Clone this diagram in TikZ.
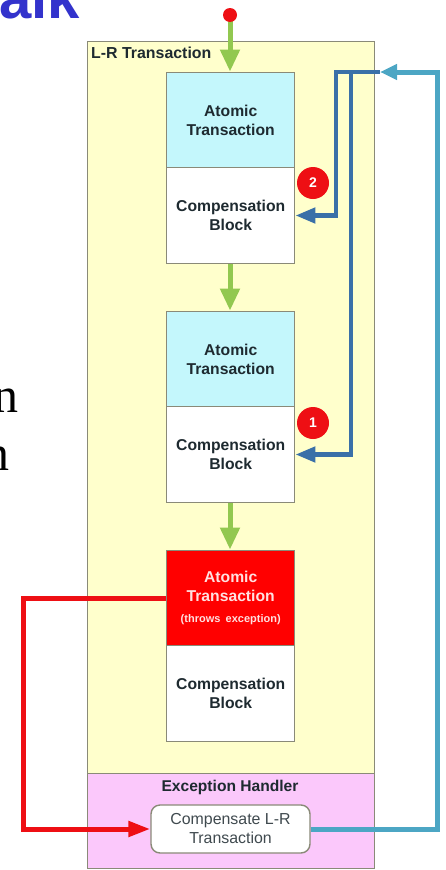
\documentclass[tikz,border=0pt]{standalone}
\usepackage{fontspec}
\setmainfont{Liberation Sans}
\newfontfamily\serifface{Liberation Serif}
\usetikzlibrary{arrows.meta}
\definecolor{panelyellow}{HTML}{FFFFCC}
\definecolor{panelpink}{HTML}{FBC8FB}
\definecolor{atomcyan}{HTML}{C4F7FC}
\definecolor{edgegrey}{HTML}{8A8A78}
\definecolor{flowgreen}{HTML}{92C850}
\definecolor{undoblue}{HTML}{3A70A8}
\definecolor{handlerteal}{HTML}{4CA6C4}
\definecolor{alarmred}{HTML}{EE0F14}
\definecolor{titleblue}{HTML}{3333CC}
\definecolor{inktext}{HTML}{1E2A30}
\tikzset{
  x=1pt,y=-1pt,
  panel/.style={draw=edgegrey,line width=1.4pt,anchor=north west,inner sep=0pt},
  blockbox/.style={draw=edgegrey,line width=1.4pt,minimum width=128pt,minimum height=95.5pt,inner sep=0pt,align=center,text=inktext,font=\fontsize{15.7}{19}\selectfont\bfseries},
  atombox/.style={blockbox,fill=atomcyan},
  compbox/.style={blockbox,fill=white},
  failbox/.style={blockbox,fill=red,text=white!88!red},
  badge/.style={circle,fill=alarmred,text=white,inner sep=0pt,minimum size=32pt,font=\fontsize{14}{14}\selectfont\bfseries},
  flowline/.style={draw=flowgreen,line width=5pt,-{Triangle[length=22pt,width=19pt]}},
  undoline/.style={draw=undoblue,line width=4.6pt,-{Triangle[length=20pt,width=15pt]}},
  handlerline/.style={draw=handlerteal,line width=5pt,-{Triangle[length=17pt,width=15pt]}},
  raiseline/.style={draw=alarmred,line width=5pt,-{Triangle[length=22pt,width=15pt]}},
}
\begin{document}
\begin{tikzpicture}
\useasboundingbox (0,0) rectangle (446,870);
\begin{scope}
\clip (0,0) rectangle (446,870);
\node[anchor=base west,inner sep=0pt,text=titleblue,font=\fontsize{58}{58}\selectfont\bfseries] (title) at (-1,18) {alk};
\node[anchor=base east,inner sep=0pt,font=\fontsize{50}{50}\selectfont\serifface] (frag1) at (19,412) {n};
\node[anchor=base east,inner sep=0pt,font=\fontsize{50}{50}\selectfont\serifface] (frag2) at (10,470) {n};
\end{scope}

\node[panel,fill=panelyellow,minimum width=287pt,minimum height=732pt] (lr) at (87,41) {};
\node[panel,fill=panelpink,minimum width=287pt,minimum height=95pt] (eh) at (87,773) {};
\node[anchor=base west,inner sep=0pt,text=inktext,font=\fontsize{15.9}{15}\selectfont\bfseries] (lrlabel) at (91,58) {L-R Transaction};
\node[inner sep=0pt,text=inktext,font=\fontsize{15.6}{15}\selectfont\bfseries] (ehlabel) at (230,787) {Exception Handler};

\node[atombox,text width=128pt] (a1) at (230.7,120) {Atomic\\Transaction};
\node[compbox,text width=128pt] (c1) at (230.7,215.5) {Compensation\\Block};
\node[atombox,text width=128pt] (a2) at (230.7,359) {Atomic\\Transaction};
\node[compbox,text width=128pt] (c2) at (230.7,454.5) {Compensation\\Block};
\node[failbox,text width=128pt] (a3) at (230.7,598) {Atomic\\Transaction\\[2pt]{\fontsize{11}{12}\selectfont (throws exception)}};
\node[compbox,text width=128pt] (c3) at (230.7,693.5) {Compensation\\Block};
\node[draw=edgegrey,line width=1.4pt,fill=white,rounded corners=9pt,minimum width=159pt,minimum height=48pt,inner sep=0pt,align=center,text=inktext!85!white,font=\fontsize{15.9}{19}\selectfont] (ch) at (230.5,829) {Compensate L-R\\Transaction};

\node[badge] (b2) at (313,183) {2};
\node[badge] (b1) at (313,423) {1};

\coordinate (startpt) at (230,15);
\coordinate (merge) at (380,72);
\coordinate (busa) at (336,72);
\coordinate (busb) at (351,72);
\coordinate (farright) at (437,72);
\coordinate (farleft) at (23,598);

\draw[flowline] (startpt) -- (startpt |- a1.north);
\draw[flowline] (c1.south -| startpt) -- (a2.north -| startpt);
\draw[flowline] (c2.south -| startpt) -- (a3.north -| startpt);
\node[circle,fill=alarmred,inner sep=0pt,minimum size=14pt] (startdot) at (startpt) {};

\draw[undoline] (merge) -- (busa) |- (c1.east);
\draw[undoline] (busb) |- (c2.east);
\draw[handlerline] (ch.east) -| (farright) -- (merge);
\draw[raiseline] (a3.west) -- (farleft) |- (ch.west);
\end{tikzpicture}
\end{document}
